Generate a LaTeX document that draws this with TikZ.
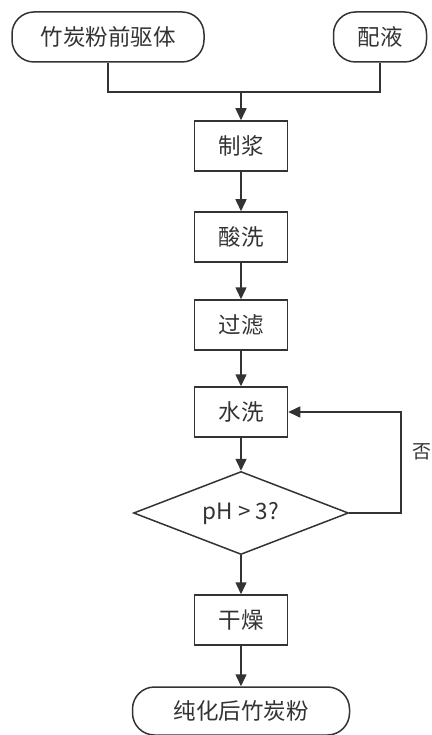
\documentclass[tikz,border=0pt]{standalone}
\usepackage{fontspec}
\setmainfont{Noto Sans CJK SC}
\usetikzlibrary{shapes.geometric,arrows.meta}
\definecolor{ink}{HTML}{333333}
\tikzset{
  every node/.style={font=\fontsize{22.5}{26}\selectfont, text=ink},
  procbox/.style={draw=ink, line width=1.5pt, minimum width=93pt, minimum height=50pt, inner sep=0pt},
  termbox/.style={draw=ink, line width=1.5pt, rounded corners=22pt, minimum height=50pt, inner sep=0pt},
  decbox/.style={draw=ink, line width=1.5pt, diamond, aspect=2.6, minimum width=215pt, minimum height=83pt, inner sep=0pt},
  link/.style={draw=ink, line width=1.5pt},
  flow/.style={link, -{Triangle[length=12pt,width=11pt]}},
  sidelabel/.style={font=\fontsize{19}{22}\selectfont, inner sep=0pt},
}
\begin{document}
\begin{tikzpicture}[x=1pt,y=-1pt]
\useasboundingbox (0,0) rectangle (431,735);
\node[termbox, minimum width=192pt] (pre) at (108,37) {竹炭粉前驱体};
\node[termbox, minimum width=93pt] (liq) at (380,37) {配液};
\node[procbox] (s1) at (241,146) {制浆};
\node[procbox] (s2) at (241,237) {酸洗};
\node[procbox] (s3) at (241,325) {过滤};
\node[procbox] (s4) at (241,412) {水洗};
\node[decbox] (d) at (241,513) {pH > 3?};
\node[procbox] (s5) at (241,620) {干燥};
\node[termbox, minimum width=217pt, minimum height=48pt] (out) at (241,711) {纯化后竹炭粉};
\coordinate (j) at (241,92);
\coordinate (r) at (401,513);
\draw[link] (pre.south) |- (j) -| (liq.south);
\draw[flow] (j) -- (s1.north);
\draw[flow] (s1) -- (s2);
\draw[flow] (s2) -- (s3);
\draw[flow] (s3) -- (s4);
\draw[flow] (s4) -- (d.north);
\draw[flow] (d.east) -- (r) |- (s4.east);
\node[sidelabel, anchor=west] (no) at ([xshift=11pt, yshift=61pt] r) {否};
\draw[flow] (d.south) -- (s5);
\draw[flow] (s5) -- (out);
\end{tikzpicture}
\end{document}
